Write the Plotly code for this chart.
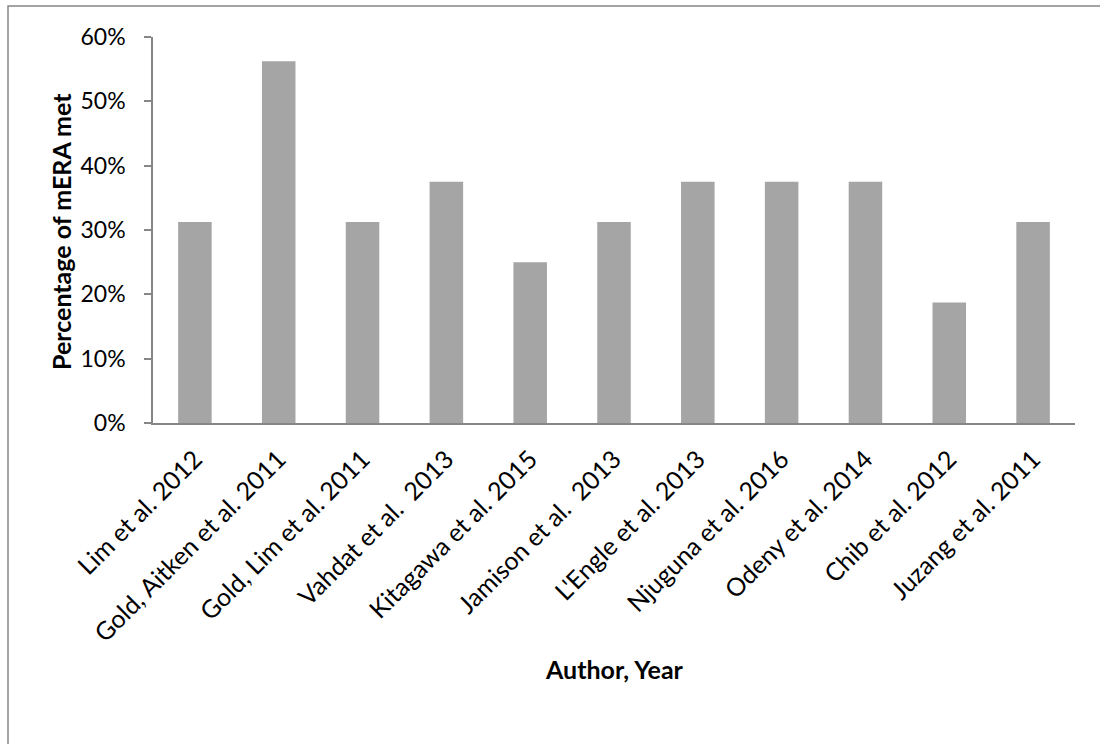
import plotly.graph_objects as go

# Studies and the share of mERA criteria each one met
studies = [
    "Lim et al. 2012",
    "Gold, Aitken et al. 2011",
    "Gold, Lim et al. 2011",
    "Vahdat et al.  2013",
    "Kitagawa et al. 2015",
    "Jamison et al.  2013",
    "L'Engle et al. 2013",
    "Njuguna et al. 2016",
    "Odeny et al. 2014",
    "Chib et al. 2012",
    "Juzang et al. 2011",
]
pct_met = [0.3125, 0.5625, 0.3125, 0.375, 0.25, 0.3125, 0.375, 0.375, 0.375, 0.1875, 0.3125]

y_ticks = [0, 0.1, 0.2, 0.3, 0.4, 0.5, 0.6]

FONT = "Lato, 'Open Sans', sans-serif"
AXIS_GREY = "#868686"

fig = go.Figure(
    go.Bar(
        x=studies,
        y=pct_met,
        marker=dict(color="#a5a5a5", line=dict(width=0)),
        hoverinfo="x+y",
    )
)

W, H = 1100, 744
L, R, T, B = 153, 25, 37, 321
pw, ph = W - L - R, H - T - B

fig.update_layout(
    width=W,
    height=H,
    margin=dict(l=L, r=R, t=T, b=B, pad=0),
    paper_bgcolor="white",
    plot_bgcolor="white",
    bargap=0.6,
    showlegend=False,
    font=dict(family=FONT, size=22, color="#000000"),
    xaxis=dict(
        showline=True,
        linecolor=AXIS_GREY,
        linewidth=1.5,
        ticks="",
        tickangle=-45,
        ticklabelstandoff=10,
        tickfont=dict(size=25),
        showgrid=False,
        zeroline=False,
    ),
    yaxis=dict(
        range=[0, 0.6],
        tickvals=y_ticks,
        tickformat=".0%",
        showline=True,
        linecolor=AXIS_GREY,
        linewidth=1.5,
        ticks="outside",
        ticklen=7,
        tickcolor=AXIS_GREY,
        tickwidth=1.5,
        ticklabelstandoff=14,
        tickfont=dict(size=23),
        showgrid=False,
        zeroline=False,
    ),
    annotations=[
        dict(
            text="<b>Percentage of mERA met</b>",
            xref="paper", yref="paper",
            x=(61 - L) / pw, y=(H - B - 232) / ph,
            textangle=-90,
            showarrow=False,
            font=dict(size=25),
            xanchor="center", yanchor="middle",
        ),
        dict(
            text="<b>Author, Year</b>",
            xref="paper", yref="paper",
            x=0.5, y=(H - B - 669) / ph,
            showarrow=False,
            font=dict(size=25),
            xanchor="center", yanchor="middle",
        ),
    ],
    shapes=[
        # chart frame (only top and left edges fall inside the page)
        dict(
            type="rect",
            xref="paper", yref="paper",
            x0=(8 - L) / pw, x1=2.0,
            y0=-2.0, y1=(H - B - 6) / ph,
            line=dict(color=AXIS_GREY, width=1.5),
            layer="below",
        ),
    ],
)

fig.write_html("out.html")
